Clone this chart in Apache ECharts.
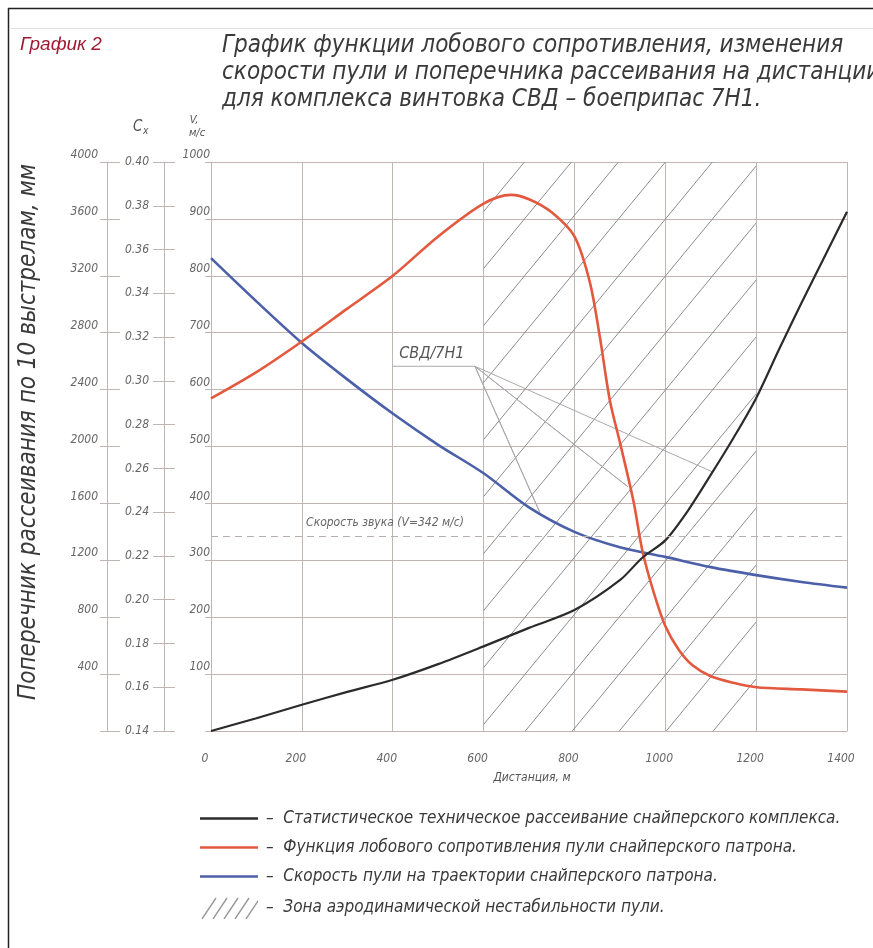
<!DOCTYPE html>
<html lang="ru">
<head>
<meta charset="UTF-8">
<title>График 2</title>
<script src="https://cdn.jsdelivr.net/npm/echarts@6.0.0/dist/echarts.min.js"></script>
<style>
  html, body { margin: 0; padding: 0; background: #fff; }
  #chart { width: 873px; height: 948px; }
</style>
</head>
<body>
<div id="chart"></div>
<script>
  // --- данные ---
  // скорость пули, м/с
  var blueDist = [0, 100, 200, 300, 400, 500, 600, 700, 800, 900, 1000, 1100, 1200, 1300, 1400]
  var blueV    = [831, 755, 682, 618, 558, 503, 453, 393, 350, 323, 306, 288, 274, 262, 252]

  // функция лобового сопротивления Cx
  var redDist = [0, 100, 200, 300, 400, 500, 600, 660, 700, 750, 800, 834, 856, 878, 900, 930, 950, 975, 1000, 1030, 1060, 1100, 1150, 1200, 1300, 1400]
  var redCx   = [0.292, 0.304, 0.318, 0.333, 0.348, 0.366, 0.381, 0.385, 0.383, 0.377, 0.366, 0.345, 0.320, 0.291, 0.272, 0.245, 0.222, 0.203, 0.188, 0.177, 0.170, 0.165, 0.162, 0.160, 0.159, 0.158]

  // поперечник рассеивания, мм
  var blackDist = [0, 100, 200, 300, 400, 500, 600, 700, 800, 900, 950, 1000, 1050, 1100, 1150, 1200, 1250, 1300, 1350, 1400]
  var blackMm   = [0, 90, 185, 275, 360, 470, 595, 725, 850, 1060, 1220, 1340, 1550, 1800, 2060, 2340, 2680, 3010, 3330, 3650]

  // зона нестабильности, м
  var zoneFrom = 600
  var zoneTo = 1200
  var soundSpeed = 342

  // выноска СВД/7Н1 (дистанция, м/с)
  var leaderPts = [[400, 641], [581, 641], [724, 384], [581, 641], [918, 429], [581, 641], [1105, 455]]
  var leaderLabel = [486, 663]
  var soundLabel = [383, 366]

  var distTicks = { min: 0, max: 1400, step: 200 }
  var vTicks = { min: 0, max: 1000, step: 100 }
  var cxTicks = { min: 0.14, max: 0.40, step: 0.02 }
  var mmTicks = { min: 0, max: 4000, step: 400 }

  var legendNames = [
    'Статистическое техническое рассеивание снайперского комплекса.',
    'Функция лобового сопротивления пули снайперского патрона.',
    'Скорость пули на траектории снайперского патрона.',
    'Зона аэродинамической нестабильности пули.'
  ]

  function zip(xs, ys) {
    return xs.map(function (x, i) { return [x, ys[i]] })
  }

  var FONT = "'DejaVu Sans Condensed', 'DejaVu Sans', sans-serif"
  var GRID = '#c0b5b2'
  var TXT = '#666'

  // штриховка
  function hatchCanvas(w, h, color) {
    var c = document.createElement('canvas')
    c.width = w
    c.height = h
    var ctx = c.getContext('2d')
    ctx.strokeStyle = color
    ctx.lineWidth = 1
    ctx.beginPath()
    for (var k = -1; k <= 1; k++) {
      ctx.moveTo(k * w, h)
      ctx.lineTo((k + 1) * w, 0)
    }
    ctx.stroke()
    return c
  }
  function hatchIcon() {
    var c = document.createElement('canvas')
    c.width = 58
    c.height = 22
    var ctx = c.getContext('2d')
    ctx.strokeStyle = '#999'
    ctx.lineWidth = 1.4
    ctx.beginPath()
    for (var i = 0; i < 5; i++) {
      ctx.moveTo(2 + i * 11, 22)
      ctx.lineTo(16 + i * 11, 1)
    }
    ctx.stroke()
    return c.toDataURL()
  }

  var chart = echarts.init(document.getElementById('chart'))

  function leftAxis(t, offset, opt) {
    return Object.assign({
      type: 'value',
      position: 'left',
      offset: offset,
      min: t.min,
      max: t.max,
      interval: t.step,
      splitLine: { show: false },
      axisLine: { show: true, lineStyle: { color: GRID, width: 1 } },
      axisTick: { show: true, lineStyle: { color: GRID } },
      axisLabel: { show: false }
    }, opt)
  }

  var labelStyle = { color: TXT, fontFamily: FONT, fontStyle: 'italic', fontSize: 12 }
  var plain = function (v) { return v === 0 ? '' : String(v) }

  chart.setOption({
    animation: false,
    backgroundColor: '#fff',
    grid: { left: 211, top: 162, width: 636, height: 569 },
    xAxis: {
      type: 'value',
      min: distTicks.min,
      max: distTicks.max,
      interval: distTicks.step,
      name: 'Дистанция, м',
      nameLocation: 'middle',
      nameGap: 41,
      nameTextStyle: { color: '#555', fontFamily: FONT, fontStyle: 'italic', fontSize: 12, padding: [0, 0, 0, 6] },
      axisLine: { lineStyle: { color: GRID } },
      axisTick: { show: false },
      splitLine: { show: true, lineStyle: { color: GRID, width: 1 } },
      axisLabel: Object.assign({
        margin: 22, fontSize: 13, padding: [0, 12, 0, 0],
        formatter: function (v) { return String(v) }
      }, labelStyle)
    },
    yAxis: [
      // V, м/с
      leftAxis(vTicks, 0, {
        splitLine: { show: true, lineStyle: { color: GRID, width: 1 } },
        axisTick: { show: true, length: 6, lineStyle: { color: GRID } },
        axisLabel: Object.assign({
          show: true, margin: 1, verticalAlign: 'bottom', lineHeight: 14, formatter: plain
        }, labelStyle)
      }),
      // Cx
      leftAxis(cxTicks, 47, {
        axisTick: { show: true, inside: true, length: 11, lineStyle: { color: GRID } },
        axisLabel: Object.assign({
          show: true, margin: 15,
          formatter: function (v) { return v.toFixed(2) }
        }, labelStyle)
      }),
      leftAxis(cxTicks, 47, {
        axisLine: { show: false },
        axisTick: { show: true, length: 11, lineStyle: { color: GRID } }
      }),
      // мм
      leftAxis(mmTicks, 104, {
        axisTick: { show: true, inside: true, length: 13, lineStyle: { color: GRID } },
        axisLabel: Object.assign({
          show: true, margin: 9, verticalAlign: 'bottom', lineHeight: 14, formatter: plain
        }, labelStyle)
      }),
      leftAxis(mmTicks, 104, {
        axisLine: { show: false },
        axisTick: { show: true, length: 7, lineStyle: { color: GRID } }
      })
    ],
    legend: {
      orient: 'vertical',
      left: 200,
      top: 810,
      padding: 0,
      itemWidth: 58,
      itemHeight: 22,
      itemGap: 12,
      selectedMode: false,
      textStyle: { color: '#3a3a3a', fontFamily: FONT, fontStyle: 'italic', fontSize: 17, padding: [0, 0, 0, 3] },
      formatter: function (name) { return '–  ' + name },
      data: [
        { name: legendNames[0], icon: 'path://M0,0h58v2.4h-58z' },
        { name: legendNames[1], icon: 'path://M0,0h58v2.4h-58z' },
        { name: legendNames[2], icon: 'path://M0,0h58v2.4h-58z' },
        { name: legendNames[3], icon: 'image://' + hatchIcon() }
      ]
    },
    series: [
      {
        name: legendNames[3],
        type: 'line',
        data: [],
        itemStyle: { color: '#999' },
        markArea: {
          silent: true,
          itemStyle: { color: { image: hatchCanvas(47, 57, '#8c8c8c'), repeat: 'repeat' } },
          data: [[{ xAxis: zoneFrom }, { xAxis: zoneTo }]]
        }
      },
      {
        name: 'leader',
        type: 'line',
        yAxisIndex: 0,
        data: leaderPts,
        symbol: 'none',
        lineStyle: { color: '#a9a9a9', width: 1 },
        markPoint: {
          symbol: 'circle',
          symbolSize: 0,
          data: [{ coord: leaderLabel, label: { show: true, formatter: 'СВД/7Н1', color: '#555', fontFamily: FONT, fontStyle: 'italic', fontSize: 16 } }]
        }
      },
      {
        name: legendNames[2],
        type: 'line',
        yAxisIndex: 0,
        data: zip(blueDist, blueV),
        smooth: 0.3,
        symbol: 'none',
        lineStyle: { color: '#4c5fa9', width: 2.6 },
        itemStyle: { color: '#4c5fa9' },
        markLine: {
          silent: true,
          symbol: 'none',
          label: { show: false },
          lineStyle: { color: '#b8b0ad', type: [7, 5], width: 1 },
          data: [{ yAxis: soundSpeed }]
        },
        markPoint: {
          symbol: 'circle',
          symbolSize: 0,
          data: [{ coord: soundLabel, label: { show: true, formatter: 'Скорость звука (V=342 м/с)', color: '#666', fontFamily: FONT, fontStyle: 'italic', fontSize: 12 } }]
        }
      },
      {
        name: legendNames[1],
        type: 'line',
        yAxisIndex: 1,
        data: zip(redDist, redCx),
        smooth: 0.3,
        symbol: 'none',
        lineStyle: { color: '#e2593e', width: 2.6 },
        itemStyle: { color: '#e2593e' }
      },
      {
        name: legendNames[0],
        type: 'line',
        yAxisIndex: 3,
        data: zip(blackDist, blackMm),
        smooth: 0.3,
        symbol: 'none',
        lineStyle: { color: '#2b2b2b', width: 2.2 },
        itemStyle: { color: '#2b2b2b' }
      }
    ],
    graphic: [
      { type: 'line', shape: { x1: 8.5, y1: 8, x2: 8.5, y2: 948 }, style: { stroke: '#222', lineWidth: 1.5 } },
      { type: 'line', shape: { x1: 8, y1: 8.5, x2: 873, y2: 8.5 }, style: { stroke: '#222', lineWidth: 1.5 } },
      { type: 'line', shape: { x1: 9, y1: 28.5, x2: 873, y2: 28.5 }, style: { stroke: '#e4e0df', lineWidth: 1 } },
      { type: 'text', style: { text: 'График 2', x: 20, y: 45, verticalAlign: 'middle', font: 'italic 19px Arial, "Liberation Sans", sans-serif', fill: '#a01a32' } },
      { type: 'text', style: { text: 'График функции лобового сопротивления, изменения', x: 222, y: 46, verticalAlign: 'middle', font: 'italic 24px ' + FONT, fill: '#3a3a3a' } },
      { type: 'text', style: { text: 'скорости пули и поперечника рассеивания на дистанции', x: 222, y: 73, verticalAlign: 'middle', font: 'italic 24px ' + FONT, fill: '#3a3a3a' } },
      { type: 'text', style: { text: 'для комплекса винтовка СВД – боеприпас 7Н1.', x: 222, y: 100, verticalAlign: 'middle', font: 'italic 24px ' + FONT, fill: '#3a3a3a' } },
      { type: 'text', rotation: Math.PI / 2, x: 29, y: 432, style: { text: 'Поперечник рассеивания по 10 выстрелам, мм', x: 0, y: 0, align: 'center', verticalAlign: 'middle', font: 'italic 24px ' + FONT, fill: '#3a3a3a' } },
      { type: 'text', style: { text: 'C', x: 133, y: 127, verticalAlign: 'middle', font: 'italic 15px ' + FONT, fill: '#555' } },
      { type: 'text', style: { text: 'x', x: 143, y: 131, verticalAlign: 'middle', font: 'italic 10px ' + FONT, fill: '#555' } },
      { type: 'text', style: { text: 'V,', x: 194, y: 120, align: 'center', verticalAlign: 'middle', font: 'italic 11px ' + FONT, fill: '#555' } },
      { type: 'text', style: { text: 'м/с', x: 197, y: 133, align: 'center', verticalAlign: 'middle', font: 'italic 11px ' + FONT, fill: '#555' } }
    ]
  })
</script>
</body>
</html>
